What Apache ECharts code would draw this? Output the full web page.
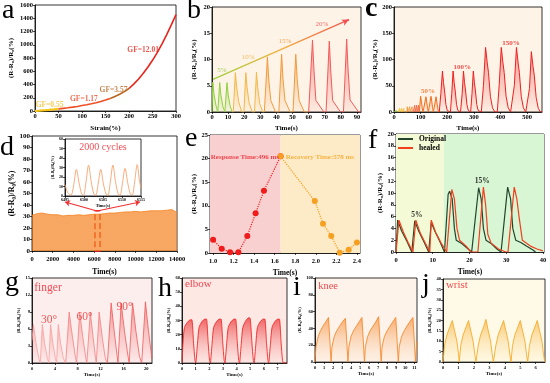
<!DOCTYPE html>
<html><head><meta charset="utf-8">
<script src="https://cdn.jsdelivr.net/npm/echarts@6/dist/echarts.min.js"></script>
<style>html,body{margin:0;padding:0;background:#fff}#c{width:550px;height:383px}</style>
</head><body><div id="c"></div>
<script>
const SERIF = '"Liberation Serif","Times New Roman",serif';
const YNAME = '(R-R\u2080)/R\u2080(%)';

// ---------- a : strain response
const aStrain = [0,10,20,30,40,50,60,70,80,90,100,110,120,130,140,150,160,170,180,190,200,210,220,230,240,250,260,270,280,290,300];
const aResp   = [0,5,11,17,24,32,40,48,58,69,82,95,109,125,144,165,190,218,252,292,340,405,480,565,660,765,880,1010,1150,1300,1455];
const aNotes = [['GF=0.55',31,86,'#f2c12e'],['GF=1.17',104,177,'#ea4a2a'],['GF=3.57',167,323,'#b8661f'],['GF=12.01',230,927,'#e52a20']];

// ---------- b : small strain cycles
const b5  = [[0,0],[0.5,5.7],[1.2,3.5],[2.5,1.2],[3.6,0],[4.2,0],[4.8,5.6],[5.5,3.3],[6.8,1.0],[8,0],[8.7,0],[9.3,5.6],[10,3.4],[11.3,1.1],[12.5,0],[13.2,0]];
const b10 = [[13.2,0],[14.5,7.5],[15.3,4.8],[16.5,2],[18.5,0],[19.8,0],[21,7.5],[21.8,4.6],[23,1.8],[25,0],[26.4,0],[27.6,7.6],[28.4,4.6],[29.6,1.6],[31.5,0],[32.5,0]];
const b15 = [[32.5,0],[34.4,10.5],[35.3,6],[36.5,2.2],[39.5,0],[41.5,0],[43.2,11],[44.1,6.2],[45.3,2.2],[48.5,0],[50.3,0],[52,11],[52.9,6.2],[54.1,2.2],[57.3,0],[60,0]];
const b20 = [[60,0],[62.4,13.7],[63.3,8],[64.5,2.2],[69.5,0],[70.8,0],[72.8,13.5],[73.7,8],[74.9,2.2],[79.8,0],[81.6,0],[83.6,13.9],[84.5,8],[85.7,2.3],[91,0],[92.5,0]];
const bNotes = [['5%',6.2,7.9,'#8cc63f'],['10%',22.4,10.4,'#f0b040'],['15%',45.3,13.5,'#f09030'],['20%',68.3,16.7,'#f05050']];

// ---------- c : large strain cycles
const cSG = [[0,0],[2,0],[3,3],[4,0],[7,0],[8,3],[9,0],[12,0],[13,3],[14,0],[16,0]];
const cSY = [[16,0],[20,0],[21,7],[22,0],[28,0],[29,7],[30,0],[36,0],[37,7],[38,0],[40,0]];
const cSO = [[40,0],[49,0],[50,10],[51,0],[58,0],[59,10],[60,0],[67,0],[68,10],[69,0],[72,0]];
const cSR = [[72,0],[77,0],[78,13],[79,0],[84,0],[85,13],[86,0],[91,0],[92,13],[93,0],[95,0]];
const c50  = [[95,0],[100,30],[103,20],[106,8],[109,0],[114,0],[120,29],[123,19],[126,8],[129,0],[133,0],[139,30],[142,20],[145,8],[148,0],[152,0],[158,29],[161,19],[164,8],[167,0],[170,0]];
const c100 = [[170,0],[176,35],[182,78],[186,56],[190,40],[195,14],[200,3],[205,0],[212,0],[217,35],[222,78],[226,56],[230,40],[235,14],[240,3],[245,0],[250,0],[256,35],[261,78],[265,56],[269,40],[274,14],[279,3],[284,0],[288,0],[293,35],[298,78],[302,56],[306,40],[311,14],[316,3],[321,0],[328,0]];
const c150 = [[328,0],[336,50],[344,123],[350,95],[355,75],[362,30],[370,8],[379,0],[388,0],[395,50],[403,123],[409,95],[414,75],[421,30],[429,8],[438,0],[445,0],[452,50],[460,123],[466,95],[471,75],[478,30],[486,8],[495,0],[502,0],[509,45],[516,115],[522,88],[527,70],[534,28],[542,7],[550,0],[556,0]];
const cNotes = [['50%',128,40,'#f07020'],['100%',256,86,'#ee2a2a'],['150%',440,131,'#ee2020']];

// ---------- d : 2000 cycles
const dTime = [0,500,1000,1500,2000,2500,3000,3500,4000,4500,5000,5500,6000,6500,7000,7500,8000,8500,9000,9500,10000,10500,11000,11500,12000,12500,13000,13500,14000];
const dResp = [31,32.5,33,32,31.5,31.5,30.5,31,31,31.5,31,31.5,32,32,32.5,33,33,33.5,34,34,34.5,34,34.5,35,35,35,35.5,36,33.5];
const insT = [6495,6495.8,6496.6,6497.3,6498.0,6498.7,6499.4,6499.9,6500.5,6501.2,6501.9,6502.6,6503.1,6503.7,6504.4,6505.1,6505.8,6506.3,6506.9,6507.6,6508.3,6509.0,6509.5,6510.1,6510.8,6511.5,6512.2,6512.7,6513.3,6514.0,6514.6,6515];
const insV = [12,3,1,12,28,14,2,1,14,32.5,15,2,1,12,28,13,2,1,14,32.5,15,2,1,13,29,14,2,1,14,33,16,8];

// ---------- e : response / recovery time
const eRespT = [1.0,1.084,1.165,1.246,1.333,1.414,1.495,1.657];
const eRespV = [2.8,0.9,0.15,0.15,3.6,8.4,13.2,20.5];
const eRecT  = [1.657,1.99,2.07,2.15,2.233,2.32,2.40];
const eRecV  = [20.5,11.0,6.2,3.6,0.05,0.7,2.2];
const eNotes = [['Response Time:496 ms',1.31,20.4,'#e8202a'],['Recovery Time:578 ms',2.04,20.4,'#f5a623']];

// ---------- f : self-healing
const fOriginal = [[0,0],[0.45,5.4],[1.5,3.6],[3,1.8],[4.3,0],[4.6,0],[5.1,5.3],[6.2,3.5],[7.7,1.6],[8.9,0],[9.2,0],[9.6,5.0],[10.6,3.5],[12,1.7],[13.2,0],[13.6,0],[14.2,9.8],[14.6,10.3],[15.3,9],[15.9,4],[16.4,2],[18,1.4],[19.5,0.6],[20.6,0],[21,0],[22.5,10.9],[23.2,9],[23.8,4],[24.5,2],[26,1.4],[27.5,0.5],[28.6,0],[29.1,0],[30.4,11],[31.2,9],[31.8,4],[32.6,2],[34,1.6],[35.5,1],[37.4,0.3],[38,0]];
const fHealed   = [[0,0],[0.8,5.4],[2,3.4],[3.3,1.6],[4.6,0],[5.4,5.4],[6.6,3.2],[8,1.5],[9.2,0],[9.6,5.4],[10.8,3.3],[12.3,1.5],[13.8,0],[14.1,0],[15.2,10.6],[15.9,9],[16.6,4],[17.3,2],[19.1,1],[20.4,0],[22.3,0],[23.8,11],[24.4,8],[25,3],[25.9,1.5],[27.9,0.5],[29.9,0],[30.5,0],[32.2,11],[32.9,9],[33.5,6],[34.4,2],[36.6,1],[38.4,0.5],[40,0.2]];
const fNotes = [['5%',5.7,6.25,'#000000'],['15%',23.5,12,'#000000']];

// ---------- g h i j : body motions
const g30 = [[0,4],[0.25,6.8],[0.7,3.5],[1.2,0.8],[1.45,0],[1.55,0],[1.8,6.8],[2.2,3.5],[2.7,0.8],[2.95,0],[3.0,0],[3.25,6.8],[3.65,3.5],[4.1,0.8],[4.3,0],[4.35,0],[4.6,6.8],[5.0,3.5],[5.5,0.8],[5.9,0]];
const g60 = [[5.9,0],[6.5,9.0],[7.1,4.5],[7.6,1],[7.8,0],[8.35,9.0],[8.9,4.5],[9.4,1],[9.6,0],[10.2,9.0],[10.7,4.5],[11.1,1],[11.25,0],[11.75,9.0],[12.3,4.5],[12.8,1],[13.1,0]];
const g90 = [[13.2,0],[13.85,10.6],[14.4,5.5],[14.9,1.2],[15.05,0],[15.6,10.6],[16.2,5.5],[16.8,1.2],[17.0,0],[17.6,10.6],[18.2,5.5],[18.8,1.2],[19.2,0],[19.85,10.8],[20.4,5.5],[20.9,1.5],[21,0.8]];
const gNotes = [['finger',2.8,13.2,'#e8202a'],['30°',3.0,7.6,'#ee3030'],['60°',9.2,8.1,'#ee3030'],['90°',16.2,9.9,'#ee3030']];
const hElbow = [[0,0],[0.07,14],[0.18,25],[0.38,28.5],[0.62,30.5],[0.72,30.5],[0.85,14],[0.95,2],[1.02,0],
 [1.07,0],[1.14,14],[1.25,25],[1.45,29],[1.69,31],[1.79,31],[1.92,14],[2.02,2],[2.09,0],
 [2.14,0],[2.21,14],[2.32,25],[2.52,29],[2.76,31],[2.86,31],[2.99,14],[3.09,2],[3.16,0],
 [3.21,0],[3.28,14],[3.39,25],[3.59,29],[3.83,31],[3.93,31],[4.06,14],[4.16,2],[4.23,0],
 [4.28,0],[4.35,14],[4.46,25],[4.66,29.5],[4.9,32],[5.0,31.5],[5.13,14],[5.23,2],[5.3,0],
 [5.35,0],[5.42,14],[5.53,25],[5.73,29],[5.97,31],[6.07,31],[6.2,14],[6.3,2],[6.37,0],
 [6.42,0],[6.49,14],[6.6,25],[6.8,29],[7.04,31],[7.14,31],[7.27,14],[7.37,2],[7.44,0],[7.7,0]];
const iKnee = [[0,0],[0.1,18],[0.35,30],[0.6,37],[0.9,43],[1.2,48],[1.5,53],[1.78,0],
 [1.88,18],[2.12,30],[2.4,37],[2.75,43],[3.05,48],[3.37,52],[3.65,0],
 [3.75,18],[3.98,30],[4.25,37],[4.6,43],[4.9,48],[5.2,53],[5.48,0],
 [5.58,18],[5.82,30],[6.1,37],[6.45,43],[6.75,48],[7.05,54],[7.33,0],
 [7.43,18],[7.68,30],[7.98,37],[8.33,43],[8.63,48],[8.95,53],[9.23,0],
 [9.33,18],[9.58,30],[9.88,37],[10.2,43],[10.5,48],[10.85,53],[11.13,0],[11.23,18],[11.3,25]];
const jWrist = [[0,0],[0.1,8],[0.25,13],[0.45,17],[0.6,20],[0.75,15],[0.9,10],[1.0,4],[1.05,0],
 [1.15,8],[1.3,13],[1.5,17],[1.65,20],[1.8,15],[1.95,10],[2.05,4],[2.13,0],[2.18,0],
 [2.28,8],[2.43,13],[2.63,17],[2.78,20.5],[2.93,15],[3.08,10],[3.18,4],[3.26,0],[3.32,0],
 [3.42,8],[3.57,13],[3.77,17],[3.92,20],[4.07,15],[4.22,10],[4.32,4],[4.4,0],
 [4.5,8],[4.65,13],[4.85,17],[5.0,20],[5.15,15],[5.3,10],[5.4,4],[5.48,0],[5.5,0],
 [5.6,8],[5.75,13],[5.95,17],[6.1,20],[6.25,15],[6.4,10],[6.5,4],[6.58,0],[6.6,0]];
const hNotes = [['elbow',1.2,55.7,'#e8202a']];
const iNotes = [['knee',1.45,90.5,'#e8202a']];
const jNotes = [['wrist',0.9,37,'#e8202a']];

// ---------- tick labels
const aXTicks=[0,50,100,150,200,250,300], aYTicks=[0,200,400,600,800,1000,1200,1400,1600];
const bXTicks=[0,10,20,30,40,50,60,70,80,90], bYTicks=[0,5,10,15,20];
const cXTicks=[0,100,200,300,400,500], cYTicks=[0,50,100,150,200];
const dXTicks=[0,2000,4000,6000,8000,10000,12000,14000], dYTicks=[0,10,20,30,40,50,60,70,80,90,100];
const insXTicks=[6495,6500,6505,6510,6515], insYTicks=[0,10,20,30,40,50,60];
const eXTicks=[1.0,1.2,1.4,1.6,1.8,2.0,2.2,2.4], eYTicks=[0,5,10,15,20,25];
const fXTicks=[0,10,20,30,40], fYTicks=[0,2,4,6,8,10,12,14,16,18,20];
const gXTicks=[0,4,8,12,16,20], gYTicks=[0,3,6,9,12,15];
const hXTicks=[0,1,2,3,4,5,6,7], hYTicks=[0,10,20,30,40,50,60];
const iXTicks=[0,1,2,3,4,5,6,7,8,9,10,11], iYTicks=[0,20,40,60,80,100];
const jXTicks=[0,1,2,3,4,5,6], jYTicks=[0,5,10,15,20,25,30,35,40];

const chart = echarts.init(document.getElementById('c'), null, {renderer:'canvas', width:550, height:383});
function grad(top, bottom){ return new echarts.graphic.LinearGradient(0,0,0,1,[{offset:0,color:top},{offset:1,color:bottom}]); }

const G = [
 {left:35, top:5,  width:141, height:106, bg:'#ffffff'},
 {left:212,top:7,  width:149, height:105, bg:'#fdf3e7'},
 {left:394,top:7,  width:148, height:105, bg:'#fdf3e7'},
 {left:32, top:136,width:145, height:115, bg:'#ffffff'},
 {left:65, top:139,width:76,  height:57,  bg:'#ffffff'},
 {left:210,top:135,width:150, height:118, bg:'#ffffff'},
 {left:396,top:134,width:148, height:118, bg:'#ffffff'},
 {left:32, top:278,width:120, height:85,  bg:'#fdeeee'},
 {left:182,top:278,width:105, height:85,  bg:'#fde8e4'},
 {left:315,top:278,width:102, height:84,  bg:'#fdf3ea'},
 {left:443,top:279,width:102, height:83,  bg:'#fffae8'}
];
const XC = [
 {min:0,max:300,t:aXTicks,fs:6.5,m:2,name:'Strain(%)',gap:14,nfs:7},
 {min:0,max:92.5,t:bXTicks,fs:6.5,m:2,name:'Time(s)',gap:13,nfs:7},
 {min:0,max:556,t:cXTicks,fs:6.5,m:2,name:'Time(s)',gap:13,nfs:7},
 {min:0,max:14000,t:dXTicks,fs:6.5,m:5,name:'Time(s)',gap:17,nfs:7.5},
 {min:6495,max:6515,t:insXTicks,fs:4,m:2,name:'Time(s)',gap:6,nfs:4.5},
 {min:0.97,max:2.43,t:eXTicks,fs:6.5,m:5,name:'Time(s)',gap:16,nfs:7.5,fmt:v=>v.toFixed(1)},
 {min:0,max:40.3,t:fXTicks,fs:6.5,m:5,name:'Time(s)',gap:16,nfs:7.5},
 {min:0,max:21,t:gXTicks,fs:4.5,m:3,name:'Time(s)',gap:8,nfs:5},
 {min:0,max:7.7,t:hXTicks,fs:4.5,m:3,name:'Time(s)',gap:8,nfs:5},
 {min:0,max:11.3,t:iXTicks,fs:4.5,m:3,name:'Time(s)',gap:8,nfs:5},
 {min:0,max:6.6,t:jXTicks,fs:4.5,m:3,name:'Time(s)',gap:8,nfs:5}
];
const YC = [
 {min:0,max:1600,t:aYTicks,fs:6.5,gap:20,nfs:7},
 {min:0,max:20,t:bYTicks,fs:6.5,gap:14,nfs:7},
 {min:0,max:200,t:cYTicks,fs:6.5,gap:14,nfs:7},
 {min:0,max:100,t:dYTicks,fs:7,gap:15,nfs:8},
 {min:0,max:60,t:insYTicks,fs:4,gap:8,nfs:4},
 {min:0,max:25,t:eYTicks,fs:6.5,gap:9,nfs:7},
 {min:0,max:20,t:fYTicks,fs:6.5,gap:12,nfs:7},
 {min:0,max:15,t:gYTicks,fs:4.5,gap:8,nfs:4.5},
 {min:0,max:60,t:hYTicks,fs:4.5,gap:8,nfs:4.5},
 {min:0,max:100,t:iYTicks,fs:4.5,gap:10,nfs:4.5},
 {min:0,max:40,t:jYTicks,fs:4.5,gap:8,nfs:4.5}
];
const grids = G.map((g,i)=>({left:g.left,top:g.top,width:g.width,height:g.height,show:true,backgroundColor:g.bg,borderColor:'#000',borderWidth:0.8,z:i===4?5:0}));
const xAxes = XC.map((c,i)=>({type:'value',gridIndex:i,min:c.min,max:c.max,z:i===4?6:0,
  axisLine:{show:true,onZero:false,lineStyle:{color:'#000',width:0.8}},
  axisTick:{show:true,length:2,customValues:c.t,lineStyle:{color:'#000',width:0.7}},
  axisLabel:{customValues:c.t,fontSize:c.fs,margin:c.m,fontFamily:SERIF,fontWeight:'bold',color:'#000',formatter:c.fmt||(v=>String(v))},
  splitLine:{show:false},
  name:c.name,nameLocation:'middle',nameGap:c.gap,nameTextStyle:{fontFamily:SERIF,fontWeight:'bold',fontSize:c.nfs,color:'#000'}}));
const yAxes = YC.map((c,i)=>({type:'value',gridIndex:i,min:c.min,max:c.max,z:i===4?6:0,
  axisLine:{show:true,onZero:false,lineStyle:{color:'#000',width:0.8}},
  axisTick:{show:true,length:2,customValues:c.t,lineStyle:{color:'#000',width:0.7}},
  axisLabel:{customValues:c.t,fontSize:c.fs,margin:2,fontFamily:SERIF,fontWeight:'bold',color:'#000',formatter:v=>String(v)},
  splitLine:{show:false},
  name:YNAME,nameLocation:'middle',nameRotate:90,nameGap:c.gap,nameTextStyle:{fontFamily:SERIF,fontWeight:'bold',fontSize:c.nfs,color:'#000'}}));

function ln(gi, data, color, width, area, extra){
  return Object.assign({type:'line',xAxisIndex:gi,yAxisIndex:gi,data:data,symbol:'none',showSymbol:false,
    lineStyle:{color:color,width:width},itemStyle:{color:color},
    areaStyle: area ? {color:grad(area[0],area[1])} : undefined, z:3}, extra||{});
}
function notes(gi, list, fs, bold){
  return {type:'scatter',xAxisIndex:gi,yAxisIndex:gi,symbolSize:1,silent:true,z:10,itemStyle:{color:'rgba(0,0,0,0)'},
    label:{show:true,position:'inside',formatter:'{b}',fontFamily:SERIF,fontSize:fs,fontWeight:bold?'bold':'normal'},
    data:list.map(n=>({name:n[0],value:[n[1],n[2]],label:{color:n[3]}}))};
}
const pairs = (xs, ys) => xs.map((x,i)=>[x,ys[i]]);

const aPts = pairs(aStrain, aResp);
const series = [
  ln(0, aPts.slice(0,6), '#f5c518', 2.2),
  ln(0, aPts.slice(5,17), '#ef4e24', 1.6),
  ln(0, aPts.slice(16,21), '#b8661f', 1.6),
  ln(0, aPts.slice(20), '#e8231c', 1.6),
  notes(0, aNotes, 7.5, true),

  ln(1, b5, '#8fd13f', 1, ['rgba(143,209,63,0.75)','rgba(143,209,63,0.08)']),
  ln(1, b10, '#f2b84a', 1, ['rgba(242,184,74,0.75)','rgba(242,184,74,0.08)']),
  ln(1, b15, '#f39a3c', 1, ['rgba(243,154,60,0.75)','rgba(243,154,60,0.08)']),
  ln(1, b20, '#f25b5b', 1, ['rgba(242,91,91,0.8)','rgba(242,91,91,0.08)'], {
    markLine:{silent:true,symbolSize:[5,7],label:{show:false},
      lineStyle:{width:1.4,type:'solid',color:new echarts.graphic.LinearGradient(0,0,1,0,[{offset:0,color:'#9bd43d'},{offset:0.5,color:'#f3b040'},{offset:1,color:'#f25050'}])},
      data:[[{coord:[0.6,6.2],symbol:'none'},{coord:[85,17.6],symbol:'none'}],
            [{coord:[83.5,17.37],symbol:'none',lineStyle:{color:'#f25050'}},{coord:[85,17.6],symbol:'arrow',lineStyle:{color:'#f25050'}}]]}}),
  notes(1, bNotes, 7, false),

  ln(2, cSG, '#9acd32', 0.8, ['rgba(154,205,50,0.6)','rgba(154,205,50,0.1)']),
  ln(2, cSY, '#f5c030', 0.8, ['rgba(245,192,48,0.6)','rgba(245,192,48,0.1)']),
  ln(2, cSO, '#f59030', 0.8, ['rgba(245,144,48,0.6)','rgba(245,144,48,0.1)']),
  ln(2, cSR, '#f06040', 0.8, ['rgba(240,96,64,0.6)','rgba(240,96,64,0.1)']),
  ln(2, c50, '#f07020', 1, ['rgba(240,112,32,0.6)','rgba(240,112,32,0.05)']),
  ln(2, c100, '#ee2020', 1, ['rgba(238,32,32,0.6)','rgba(238,32,32,0.03)']),
  ln(2, c150, '#ee2020', 1, ['rgba(238,32,32,0.6)','rgba(238,32,32,0.03)']),
  notes(2, cNotes, 7, true),

  ln(3, pairs(dTime,dResp), '#f58220', 0.8, ['#f58220','#f58220'], {
    markArea:{silent:true,itemStyle:{color:'rgba(0,0,0,0)',borderColor:'#e82020',borderWidth:1.5,borderType:'dashed'},
      data:[[{coord:[6080,0]},{coord:[6570,35]}]]}}),
  {type:'lines',coordinateSystem:'cartesian2d',xAxisIndex:3,yAxisIndex:3,silent:true,z:8,
    symbol:['none','arrow'],symbolSize:5,lineStyle:{color:'#f03030',width:1.2,opacity:1},
    data:[{coords:[[6276,34.8],[3186,42.6]]},{coords:[[6276,34.8],[10428,42.6]]}]},
  ln(4, pairs(insT,insV), '#f5a36c', 0.9, null, {smooth:0.3, z:7}),
  notes(4, [['2000 cycles',6505,51,'#e8202a']], 10, false),

  {type:'line',xAxisIndex:5,yAxisIndex:5,data:pairs(eRespT,eRespV),symbol:'circle',symbolSize:6,
    lineStyle:{color:'#f02020',width:1.2,type:'dotted'},itemStyle:{color:'#f01c1c'},z:4,
    markArea:{silent:true,data:[[{xAxis:0.97,itemStyle:{color:'#f9d0d0'}},{xAxis:eRespT[eRespT.length-1]}],
                              [{xAxis:eRespT[eRespT.length-1],itemStyle:{color:'#fdeac6'}},{xAxis:2.43}]]}},
  {type:'line',xAxisIndex:5,yAxisIndex:5,data:pairs(eRecT,eRecV),symbol:'circle',symbolSize:6,
    lineStyle:{color:'#f5a020',width:1.2,type:'dotted'},itemStyle:{color:'#f5a020'},z:4},
  notes(5, eNotes, 7, true),

  Object.assign(ln(6, fOriginal, '#23452b', 1.2), {name:'Original',
    markArea:{silent:true,data:[[{xAxis:0,itemStyle:{color:'#f4fad6'}},{xAxis:13}],[{xAxis:13,itemStyle:{color:'#d8f5d4'}},{xAxis:40.3}]]}}),
  Object.assign(ln(6, fHealed, '#f0401e', 1.2), {name:'healed'}),
  notes(6, fNotes, 7.5, true),

  ln(7, g30, '#f7a0a0', 0.8, ['rgba(240,100,100,0.55)','rgba(240,100,100,0.03)']),
  ln(7, g60, '#f28080', 0.8, ['rgba(240,90,90,0.6)','rgba(240,90,90,0.03)']),
  ln(7, g90, '#ee5a5a', 0.8, ['rgba(235,60,60,0.65)','rgba(235,60,60,0.03)']),
  notes(7, gNotes, 11.5, false),

  ln(8, hElbow, '#ee2a2a', 0.9, ['rgba(232,30,30,0.95)','rgba(250,220,220,0.4)'], {smooth:0.25}),
  notes(8, hNotes, 11, false),
  ln(9, iKnee, '#f58a30', 0.9, ['rgba(245,127,32,0.9)','rgba(253,230,210,0.3)']),
  notes(9, iNotes, 10.5, false),
  ln(10, jWrist, '#f6ac2a', 0.9, ['rgba(245,166,35,0.85)','rgba(253,240,200,0.3)']),
  notes(10, jNotes, 11, false)
];

const letters = [['a',2,20,false],['b',187,20,false],['c',365,18,true],['d',0,157,false],['e',185,148,false],['f',368,150,false],
                 ['g',5,292,false],['h',158,298,false],['i',293,297,false],['j',422,294,false]];
chart.setOption({
  animation:false,
  backgroundColor:'#ffffff',
  grid:grids, xAxis:xAxes, yAxis:yAxes, series:series,
  legend:{data:['Original','healed'],left:398,top:135,orient:'vertical',itemGap:1,itemWidth:15,itemHeight:2,icon:'rect',
    textStyle:{fontFamily:SERIF,fontWeight:'bold',fontSize:7.5,color:'#000',padding:[0,0,0,1]},padding:0},
  graphic:letters.map(l=>({type:'text',z:100,style:{text:l[0],x:l[1],y:l[2]-0.34*28,fill:'#000',
    font:(l[3]?'bold ':'')+'28px '+SERIF,textAlign:'left',textVerticalAlign:'middle'}}))
});
</script></body></html>
